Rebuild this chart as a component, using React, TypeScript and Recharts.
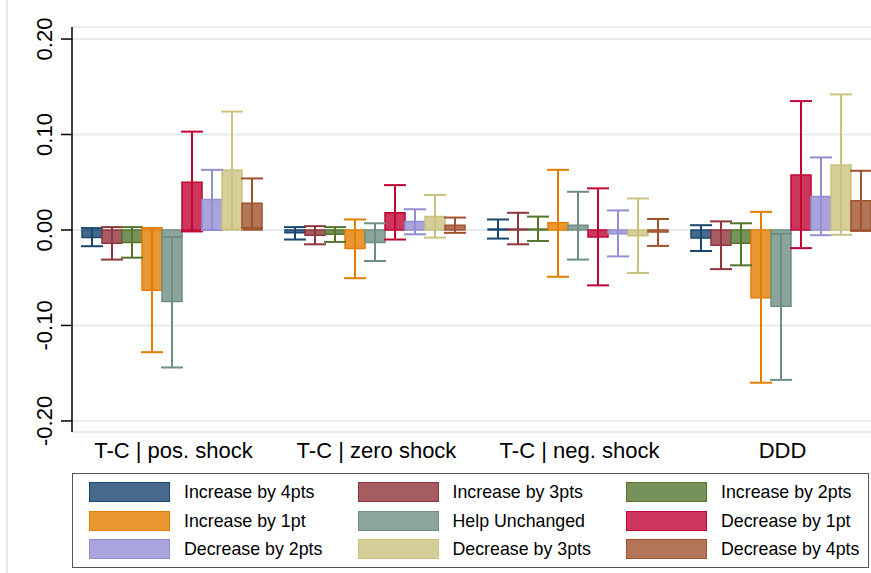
import React from 'react';
import { BarChart, Bar, XAxis, YAxis, CartesianGrid, ErrorBar } from 'recharts';

const categories = ['T-C | pos. shock', 'T-C | zero shock', 'T-C | neg. shock', 'DDD'];

const seriesNames = [
  'Increase by 4pts', 'Increase by 3pts', 'Increase by 2pts',
  'Increase by 1pt', 'Help Unchanged', 'Decrease by 1pt',
  'Decrease by 2pts', 'Decrease by 3pts', 'Decrease by 4pts',
];

// point estimates per category
const inc4 = [-0.008, -0.003, 0.001, -0.0085];
const inc3 = [-0.014, -0.0055, 0.001, -0.016];
const inc2 = [-0.013, -0.0045, 0.001, -0.014];
const inc1 = [-0.063, -0.0195, 0.0075, -0.071];
const unch = [-0.075, -0.013, 0.005, -0.08];
const dec1 = [0.05, 0.018, -0.0073, 0.0576];
const dec2 = [0.032, 0.0088, -0.004, 0.035];
const dec3 = [0.0627, 0.014, -0.006, 0.068];
const dec4 = [0.028, 0.005, -0.002, 0.0307];

// confidence interval bounds
const inc4Lo = [-0.017, -0.01, -0.009, -0.022];
const inc4Hi = [0.002, 0.003, 0.011, 0.005];
const inc3Lo = [-0.031, -0.015, -0.015, -0.041];
const inc3Hi = [0.003, 0.004, 0.018, 0.009];
const inc2Lo = [-0.029, -0.0125, -0.0115, -0.037];
const inc2Hi = [0.003, 0.003, 0.014, 0.007];
const inc1Lo = [-0.128, -0.0505, -0.049, -0.16];
const inc1Hi = [0.002, 0.011, 0.063, 0.019];
const unchLo = [-0.144, -0.0325, -0.031, -0.157];
const unchHi = [-0.0075, 0.007, 0.04, -0.004];
const dec1Lo = [-0.0015, -0.01, -0.058, -0.019];
const dec1Hi = [0.103, 0.047, 0.0436, 0.135];
const dec2Lo = [0.0, -0.0045, -0.0277, -0.0055];
const dec2Hi = [0.063, 0.0217, 0.0205, 0.076];
const dec3Lo = [0.001, -0.008, -0.045, -0.005];
const dec3Hi = [0.124, 0.0367, 0.033, 0.142];
const dec4Lo = [0.002, -0.003, -0.0167, -0.001];
const dec4Hi = [0.054, 0.013, 0.0115, 0.062];

const yTicks = [-0.2, -0.1, 0, 0.1, 0.2];

const values = [inc4, inc3, inc2, inc1, unch, dec1, dec2, dec3, dec4];
const lows = [inc4Lo, inc3Lo, inc2Lo, inc1Lo, unchLo, dec1Lo, dec2Lo, dec3Lo, dec4Lo];
const highs = [inc4Hi, inc3Hi, inc2Hi, inc1Hi, unchHi, dec1Hi, dec2Hi, dec3Hi, dec4Hi];

const fills = ['#46698c', '#a65d62', '#76915a', '#e89733', '#8ba59d', '#cd375d', '#a9a4db', '#d5ce98', '#b37557'];
const lines = ['#1a476f', '#90353b', '#55752f', '#e37e00', '#6e8e84', '#c10534', '#938dd2', '#cac27e', '#a0522d'];

const FONT = '"Liberation Sans", Arial, sans-serif';

const data = categories.map((name, c) => {
  const row: any = { name };
  values.forEach((arr, s) => {
    const v = arr[c];
    row[`v${s}`] = v;
    row[`e${s}`] = [v - lows[s][c], highs[s][c] - v];
  });
  return row;
});

const YTick = (props: any) => {
  const { y, payload } = props;
  return (
    <text
      x={45}
      y={y}
      transform={`rotate(-90, 45, ${y})`}
      textAnchor="middle"
      dominantBaseline="central"
      fontSize={22}
      fontFamily={FONT}
      fill="#000"
    >
      {payload.value.toFixed(2)}
    </text>
  );
};

export default function App() {
  return (
    <div style={{ position: 'fixed', left: 0, top: 0, width: 871, height: 573, overflow: 'hidden', background: '#fff' }}>
      <div style={{ position: 'absolute', left: 6, top: 0, width: 1.5, height: 573, background: '#e3eaee' }} />
      <BarChart
        width={884}
        height={573}
        data={data}
        margin={{ top: 27, right: 0, bottom: 111, left: 0 }}
        barCategoryGap={10}
        barGap={0}
      >
        <CartesianGrid horizontal vertical={false} stroke="#e6edf0" strokeWidth={2} />
        <XAxis
          dataKey="name"
          axisLine={false}
          tickLine={false}
          tickSize={0}
          tickMargin={10}
          height={30}
          interval={0}
          tick={{ fontSize: 22, fontFamily: FONT, fill: '#000' }}
        />
        <YAxis
          width={72}
          domain={[-0.2116, 0.2126]}
          ticks={yTicks}
          allowDataOverflow
          axisLine={{ stroke: '#000', strokeWidth: 1.5 }}
          tickLine={{ stroke: '#000', strokeWidth: 1.5 }}
          tickSize={11}
          tick={<YTick />}
        />
        {seriesNames.map((n, s) => (
          <Bar
            key={n}
            dataKey={`v${s}`}
            name={n}
            fill={fills[s]}
            stroke={lines[s]}
            strokeWidth={1.5}
            isAnimationActive={false}
          >
            <ErrorBar dataKey={`e${s}`} width={11} stroke={lines[s]} strokeWidth={2} direction="y" />
          </Bar>
        ))}
      </BarChart>
      <div
        style={{
          position: 'absolute', left: 72, top: 473, width: 797, height: 95,
          border: '1.5px solid #555', boxSizing: 'border-box', fontFamily: FONT,
        }}
      >
        {seriesNames.map((n, s) => {
          const col = s % 3;
          const row = Math.floor(s / 3);
          return (
            <React.Fragment key={n}>
              <div
                style={{
                  position: 'absolute', left: 16 + col * 268.5, top: 8 + row * 28.6,
                  width: 81, height: 20, background: fills[s], border: `1.5px solid ${lines[s]}`, boxSizing: 'border-box',
                }}
              />
              <div
                style={{
                  position: 'absolute', left: 111 + col * 268.5, top: 7 + row * 28.6,
                  fontSize: 17.8, lineHeight: '22px', color: '#000', whiteSpace: 'nowrap',
                }}
              >
                {n}
              </div>
            </React.Fragment>
          );
        })}
      </div>
    </div>
  );
}
